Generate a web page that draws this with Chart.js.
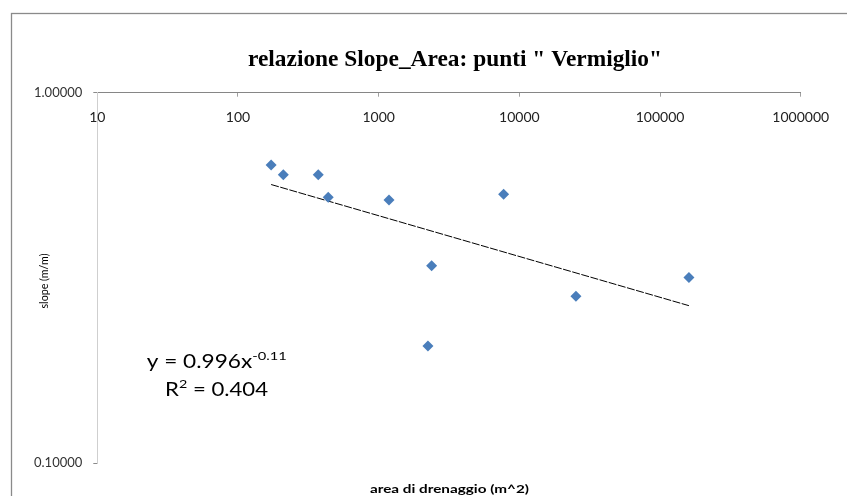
<!DOCTYPE html>
<html lang="it">
<head>
<meta charset="utf-8">
<title>relazione Slope_Area: punti " Vermiglio"</title>
<script src="https://cdn.jsdelivr.net/npm/chart.js@4"></script>
<style>
    html, body { margin: 0; padding: 0; background: #fff; }
    #wrap { width: 847px; height: 496px; position: relative; }
</style>
</head>
<body>
<div id="wrap"><canvas id="slopeChart"></canvas></div>
<script>
// Dati
const areaDrenaggio = [172, 210, 372, 438, 1184, 7735, 2380, 2241, 25250, 160500];
const slope = [0.638, 0.600, 0.600, 0.522, 0.513, 0.532, 0.341, 0.207, 0.282, 0.317];

// Linea di tendenza (potenza): estremi
const trendX = [172, 160500];
const trendY = [0.565, 0.266];

const xTicks = [10, 100, 1000, 10000, 100000, 1000000];
const yTicks = [0.1, 1];

const chartTitle = 'relazione Slope_Area: punti " Vermiglio"';
const xTitle = 'area di drenaggio (m^2)';
const yTitle = 'slope (m/m)';

// Testo centrato, schiacciato/allargato per occupare una certa larghezza
function fitText(ctx, text, cx, cy, width) {
    const w = ctx.measureText(text).width;
    ctx.save();
    ctx.translate(cx, cy);
    ctx.scale(width / w, 1);
    ctx.textAlign = 'center';
    ctx.fillText(text, 0, 0);
    ctx.restore();
}

// Testo con apice (es. x^-0.11), centrato su cx
function drawWithSup(ctx, parts, cx, baseline, width) {
    ctx.save();
    let total = 0;
    parts.forEach(p => {
        ctx.font = p.font;
        p.w = ctx.measureText(p.text).width;
        total += p.w;
    });
    const k = width / total;
    ctx.translate(cx - width / 2, baseline);
    ctx.scale(k, 1);
    ctx.textAlign = 'left';
    ctx.textBaseline = 'alphabetic';
    let x = 0;
    parts.forEach(p => {
        ctx.font = p.font;
        ctx.fillText(p.text, x, p.dy || 0);
        x += p.w;
    });
    ctx.restore();
}

const decorPlugin = {
    id: 'decor',
    beforeDraw(chart) {
        const ctx = chart.ctx;
        ctx.save();
        // cornice esterna del grafico
        ctx.strokeStyle = '#8a8a8a';
        ctx.lineWidth = 1.3;
        ctx.strokeRect(11.5, 13.5, 1000, 1000);
        ctx.restore();
    },
    afterDraw(chart) {
        const ctx = chart.ctx;
        const xs = chart.scales.x;
        ctx.save();
        ctx.fillStyle = '#000';
        ctx.textBaseline = 'middle';

        // titolo
        ctx.font = 'bold 23px "Liberation Serif"';
        fitText(ctx, chartTitle, 455, 60, 414);

        // etichette asse x (sotto la linea dell'asse)
        ctx.font = '14px Lato';
        ctx.fillStyle = '#222';
        ctx.textAlign = 'center';
        xTicks.forEach(v => ctx.fillText(String(v), xs.getPixelForValue(v), 117));

        // titoli assi
        ctx.fillStyle = '#000';
        ctx.font = 'bold 12px Lato';
        fitText(ctx, xTitle, 449.5, 489.5, 159);

        ctx.save();
        ctx.translate(44, 281);
        ctx.rotate(-Math.PI / 2);
        ctx.font = '11.5px Lato';
        fitText(ctx, yTitle, 0, 0, 55);
        ctx.restore();

        // equazione della linea di tendenza
        drawWithSup(ctx, [
            { text: 'y = 0.996x', font: '18.5px Lato' },
            { text: '-0.11', font: '12px Lato', dy: -7.5 }
        ], 216.7, 367.5, 140);
        drawWithSup(ctx, [
            { text: 'R', font: '18.5px Lato' },
            { text: '2', font: '12px Lato', dy: -7.5 },
            { text: ' = 0.404', font: '18.5px Lato' }
        ], 216.5, 395.5, 103);

        ctx.restore();
    }
};

const ctx = document.getElementById('slopeChart');
new Chart(ctx, {
    type: 'scatter',
    data: {
        datasets: [
            {
                label: 'punti Vermiglio',
                data: areaDrenaggio.map((a, i) => ({ x: a, y: slope[i] })),
                pointStyle: 'rectRot',
                pointRadius: 5.5,
                pointHoverRadius: 5.5,
                backgroundColor: '#4a7ebb',
                borderColor: '#4a7ebb',
                borderWidth: 0
            },
            {
                label: 'tendenza',
                data: trendX.map((a, i) => ({ x: a, y: trendY[i] })),
                showLine: true,
                pointRadius: 0,
                borderColor: '#000',
                borderWidth: 1,
                borderDash: [8, 1.5],
                fill: false
            }
        ]
    },
    options: {
        responsive: true,
        maintainAspectRatio: false,
        animation: false,
        layout: { padding: { left: 0, top: 0, right: 46.3, bottom: 33 } },
        plugins: {
            legend: { display: false },
            tooltip: { enabled: false },
            title: { display: false }
        },
        scales: {
            x: {
                type: 'logarithmic',
                position: 'top',
                min: 10,
                max: 1000000,
                afterBuildTicks: s => { s.ticks = xTicks.map(v => ({ value: v })); },
                afterFit: s => { s.height = 92.7; },
                ticks: { display: false },
                grid: { drawOnChartArea: false, tickLength: -4, tickColor: '#a0a0a0' },
                border: { color: '#868686', width: 1 }
            },
            y: {
                type: 'logarithmic',
                position: 'left',
                min: 0.1,
                max: 1,
                afterBuildTicks: s => { s.ticks = yTicks.map(v => ({ value: v })); },
                afterFit: s => { s.width = 97.3; },
                ticks: {
                    callback: v => Number(v).toFixed(5),
                    font: { family: 'Lato', size: 13 },
                    color: '#333',
                    padding: 11
                },
                grid: { drawOnChartArea: false, tickLength: 4, tickColor: '#8a8a8a' },
                border: { color: '#cfcfcf', width: 1 }
            }
        }
    },
    plugins: [decorPlugin]
});
</script>
</body>
</html>
